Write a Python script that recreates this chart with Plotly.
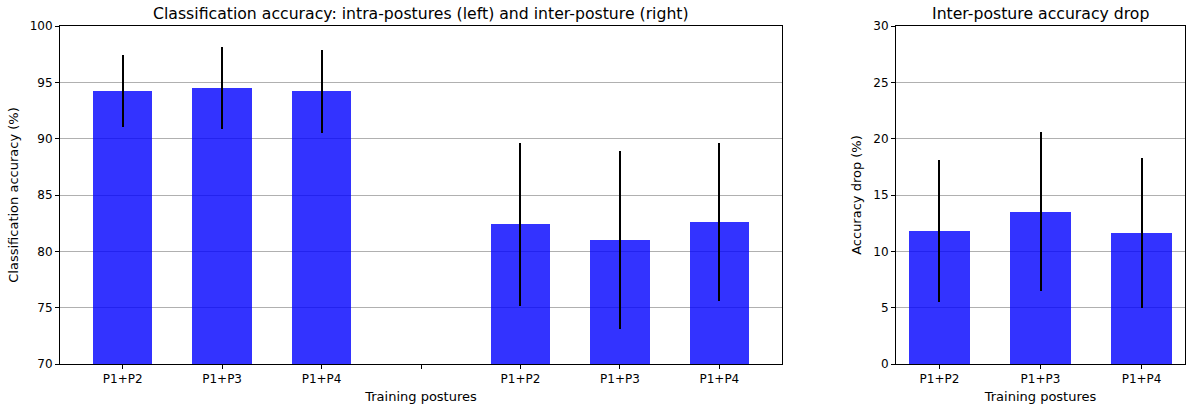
import plotly.graph_objects as go

# Data
left_labels = ["P1+P2", "P1+P3", "P1+P4", "", "P1+P2", "P1+P3", "P1+P4"]
left_pos = [0, 1, 2, 4, 5, 6]
left_vals = [94.2, 94.5, 94.2, 82.4, 81.0, 82.6]
left_errs = [3.2, 3.65, 3.7, 7.25, 7.9, 7.05]

right_labels = ["P1+P2", "P1+P3", "P1+P4"]
right_pos = [0, 1, 2]
right_vals = [11.8, 13.5, 11.6]
right_errs = [6.3, 7.05, 6.65]

W, H = 1188, 409
FONT = "DejaVu Sans"
BAR = "rgba(0,0,255,0.8)"

fig = go.Figure()
fig.add_trace(go.Bar(
    x=left_pos, y=left_vals, width=0.6, xaxis="x", yaxis="y",
    marker=dict(color=BAR, line=dict(width=0)),
    error_y=dict(type="data", array=left_errs, color="black", thickness=2, width=0),
    showlegend=False))
fig.add_trace(go.Bar(
    x=right_pos, y=right_vals, width=0.6, xaxis="x2", yaxis="y2",
    marker=dict(color=BAR, line=dict(width=0)),
    error_y=dict(type="data", array=right_errs, color="black", thickness=2, width=0),
    showlegend=False))

axis_common = dict(showline=True, linecolor="black", linewidth=1, mirror=True,
                   ticks="outside", ticklen=4, tickcolor="black", automargin=False,
                   tickfont=dict(family=FONT, size=12, color="black"), zeroline=False)
title_font = dict(family=FONT, size=13, color="black")

L1, R1 = 60, 782
L2, R2 = 896, 1185

fig.update_layout(
    width=W, height=H,
    paper_bgcolor="white", plot_bgcolor="white",
    margin=dict(l=0, r=0, t=26, b=409 - 364),
    bargap=0,
    xaxis=dict(domain=[L1 / W, R1 / W], range=[-0.63, 6.63],
               tickvals=list(range(7)), ticktext=left_labels, showgrid=False,
               title=dict(text="Training postures", font=title_font, standoff=6),
               **axis_common),
    yaxis=dict(range=[70, 100], tickvals=[70, 75, 80, 85, 90, 95, 100],
               showgrid=True, gridcolor="#b0b0b0", gridwidth=1,
               title=dict(text="Classification accuracy (%)", font=title_font, standoff=8),
               **axis_common),
    xaxis2=dict(domain=[L2 / W, R2 / W], range=[-0.43, 2.43],
                tickvals=right_pos, ticktext=right_labels, showgrid=False, anchor="y2",
                title=dict(text="Training postures", font=title_font, standoff=6),
                **axis_common),
    yaxis2=dict(range=[0, 30], tickvals=[0, 5, 10, 15, 20, 25, 30], anchor="x2",
                showgrid=True, gridcolor="#b0b0b0", gridwidth=1,
                title=dict(text="Accuracy drop (%)", font=title_font, standoff=8),
                **axis_common),
    annotations=[
        dict(text="Classification accuracy: intra-postures (left) and inter-posture (right)",
             x=(L1 + R1) / 2 / W, y=1, xref="paper", yref="paper", xanchor="center", yanchor="bottom",
             yshift=1, showarrow=False, font=dict(family=FONT, size=15.7, color="black")),
        dict(text="Inter-posture accuracy drop",
             x=(L2 + R2) / 2 / W, y=1, xref="paper", yref="paper", xanchor="center", yanchor="bottom",
             yshift=1, showarrow=False, font=dict(family=FONT, size=15.7, color="black")),
    ],
)

fig.write_html("out.html", config={"displayModeBar": False},
               post_script="document.body.style.margin='0';document.body.style.overflow='hidden';")
